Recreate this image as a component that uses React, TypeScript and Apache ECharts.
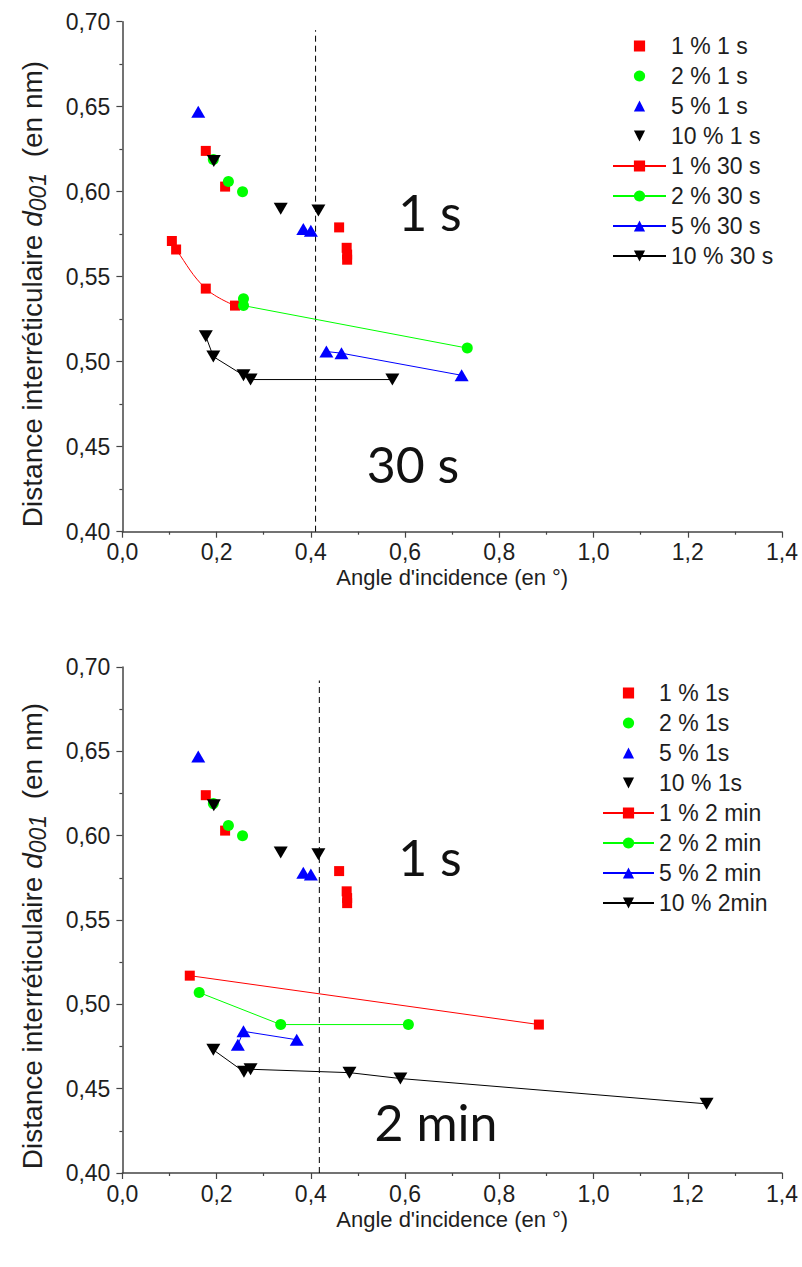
import React, { useEffect, useRef } from "react";
import * as echarts from "echarts";

// ---------- data ----------
// 1 s measurements (same in both panels)
const P1_1S: [number, number][] = [[0.177, 0.624], [0.218, 0.603], [0.460, 0.579], [0.476, 0.567], [0.477, 0.563], [0.477, 0.560]];
const P2_1S: [number, number][] = [[0.193, 0.619], [0.225, 0.606], [0.255, 0.600]];
const P5_1S: [number, number][] = [[0.161, 0.647], [0.384, 0.578], [0.400, 0.577]];
const P10_1S: [number, number][] = [[0.194, 0.618], [0.336, 0.590], [0.416, 0.589]];

// 30 s measurements
const P1_30S: [number, number][] = [[0.105, 0.571], [0.114, 0.566], [0.177, 0.543], [0.239, 0.533]];
const P2_30S: [number, number][] = [[0.257, 0.537], [0.257, 0.533], [0.732, 0.508]];
const P5_30S: [number, number][] = [[0.433, 0.506], [0.465, 0.505], [0.720, 0.492]];
const P10_30S: [number, number][] = [[0.177, 0.515], [0.193, 0.503], [0.257, 0.492], [0.272, 0.4895], [0.573, 0.4895]];

// 2 min measurements
const P1_2M: [number, number][] = [[0.143, 0.517], [0.884, 0.488]];
const P2_2M: [number, number][] = [[0.163, 0.507], [0.336, 0.488], [0.607, 0.488]];
const P5_2M: [number, number][] = [[0.245, 0.476], [0.257, 0.484], [0.370, 0.479]];
const P10_2M: [number, number][] = [[0.193, 0.473], [0.258, 0.460], [0.272, 0.4615], [0.482, 0.4595], [0.590, 0.456], [1.240, 0.441]];

// vertical dashed separators
const DASH_TOP: [number, number][] = [[0.410, 0.40], [0.410, 0.695]];
const DASH_BOTTOM: [number, number][] = [[0.418, 0.40], [0.418, 0.692]];

const TOP_NAMES = ["1 % 1 s", "2 % 1 s", "5 % 1 s", "10 % 1 s", "1 % 30 s", "2 % 30 s", "5 % 30 s", "10 % 30 s"];
const BOTTOM_NAMES = ["1 % 1s", "2 % 1s", "5 % 1s", "10 % 1s", "1 % 2 min", "2 % 2 min", "5 % 2 min", "10 % 2min"];

const X_TITLE = "Angle d'incidence (en °)";
const Y_TITLE_PARTS = ["Distance interréticulaire ", "d", "001", "  (en nm)"];
const PANEL_TEXTS = [["1 s", "30 s"], ["1 s", "2 min"]];

// ---------- styles ----------
const FONT = "'Liberation Sans', Arial, sans-serif";
const TXT = "#1e1e1e";
const RED = "#ff0000";
const GREEN = "#00ff00";
const BLUE = "#0000ff";
const BLACK = "#000000";
const COLORS = [RED, GREEN, BLUE, BLACK];
const SYMBOLS = ["rect", "circle", "triangle", "triangle"];
const ROT = [0, 0, 0, 180];
const SIZES: any[] = [10, 11, [14, 12], [14, 12]];

function series(name: string, data: any, i: number, g: number, withLine: boolean, smooth: number | boolean = false) {
  return {
    type: "line",
    name,
    xAxisIndex: g,
    yAxisIndex: g,
    data,
    smooth,
    symbol: SYMBOLS[i],
    symbolRotate: ROT[i],
    symbolSize: SIZES[i],
    showSymbol: true,
    showAllSymbol: true,
    lineStyle: withLine ? { color: COLORS[i], width: 1 } : { color: "rgba(0,0,0,0)", width: 0 },
    itemStyle: { color: COLORS[i], opacity: 1 },
    z: 3 + i,
  };
}

function dash(data: any, g: number) {
  return {
    type: "line",
    name: "sep" + g,
    xAxisIndex: g,
    yAxisIndex: g,
    data,
    symbol: "none",
    silent: true,
    lineStyle: { color: "#000", width: 1, type: [6, 4] },
    z: 2,
  };
}

const AXIS_LINE = { show: true, onZero: false, lineStyle: { color: "#444", width: 1.5 } };
const AXIS_TICK = { show: true, inside: false, length: 6, lineStyle: { color: "#444", width: 1.2 } };
const MINOR_TICK = { show: true, splitNumber: 2, length: 3, lineStyle: { color: "#444", width: 1.2 } };

function xAxis(g: number) {
  return {
    type: "value",
    gridIndex: g,
    min: 0,
    max: 1.4,
    interval: 0.2,
    name: X_TITLE,
    nameLocation: "middle",
    nameGap: 35,
    nameTextStyle: { fontSize: 22, color: TXT, fontFamily: FONT },
    axisLine: AXIS_LINE,
    axisTick: AXIS_TICK,
    minorTick: MINOR_TICK,
    splitLine: { show: false },
    axisLabel: {
      margin: 9,
      fontSize: 23,
      color: TXT,
      fontFamily: FONT,
      formatter: (v: number) => v.toFixed(1).replace(".", ","),
    },
  };
}

function yAxis(g: number) {
  return {
    type: "value",
    gridIndex: g,
    min: 0.4,
    max: 0.7,
    interval: 0.05,
    axisLine: AXIS_LINE,
    axisTick: AXIS_TICK,
    minorTick: MINOR_TICK,
    splitLine: { show: false },
    axisLabel: {
      margin: 12,
      fontSize: 23,
      color: TXT,
      fontFamily: FONT,
      formatter: (v: number) => v.toFixed(2).replace(".", ","),
    },
  };
}

function legend(names: string[], left: number, top: number, w: number) {
  return {
    orient: "vertical",
    left,
    top,
    padding: 0,
    itemWidth: w,
    itemHeight: 14,
    itemGap: 6,
    data: names,
    selectedMode: false,
    textStyle: { fontSize: 23, color: TXT, fontFamily: FONT, lineHeight: 24 },
  };
}

function bigText(text: string, x: number, y: number) {
  return {
    type: "text",
    x,
    y,
    style: {
      text,
      fill: "#111",
      font: "50px Lato, 'Open Sans', sans-serif",
      textAlign: "center",
      textVerticalAlign: "middle",
    },
    z: 10,
  };
}

function yTitle(x: number, y: number) {
  return {
    type: "text",
    x,
    y,
    rotation: Math.PI / 2,
    style: {
      text: `{n|${Y_TITLE_PARTS[0]}}{d|${Y_TITLE_PARTS[1]}}{s|${Y_TITLE_PARTS[2]}}{n|${Y_TITLE_PARTS[3]}}`,
      textAlign: "center",
      textVerticalAlign: "middle",
      fill: TXT,
      font: `28px ${FONT}`,
      rich: {
        n: { fontSize: 28, fill: TXT, fontFamily: FONT, lineHeight: 34 },
        d: { fontSize: 28, fill: TXT, fontFamily: FONT, fontStyle: "italic", lineHeight: 34 },
        s: { fontSize: 23, fill: TXT, fontFamily: FONT, fontStyle: "italic", lineHeight: 22, verticalAlign: "bottom" },
      },
    },
    z: 10,
  };
}

export default function App() {
  const ref = useRef<HTMLDivElement>(null);
  useEffect(() => {
    if (!ref.current) return;
    const chart = echarts.init(ref.current, null, { renderer: "svg" });
    const list: any[] = [
      dash(DASH_TOP, 0),
      series(TOP_NAMES[0], P1_1S, 0, 0, false),
      series(TOP_NAMES[1], P2_1S, 1, 0, false),
      series(TOP_NAMES[2], P5_1S, 2, 0, false),
      series(TOP_NAMES[3], P10_1S, 3, 0, false),
      series(TOP_NAMES[4], P1_30S, 0, 0, true, 0.4),
      series(TOP_NAMES[5], P2_30S, 1, 0, true),
      series(TOP_NAMES[6], P5_30S, 2, 0, true),
      series(TOP_NAMES[7], P10_30S, 3, 0, true),
      dash(DASH_BOTTOM, 1),
      series(BOTTOM_NAMES[0], P1_1S, 0, 1, false),
      series(BOTTOM_NAMES[1], P2_1S, 1, 1, false),
      series(BOTTOM_NAMES[2], P5_1S, 2, 1, false),
      series(BOTTOM_NAMES[3], P10_1S, 3, 1, false),
      series(BOTTOM_NAMES[4], P1_2M, 0, 1, true),
      series(BOTTOM_NAMES[5], P2_2M, 1, 1, true),
      series(BOTTOM_NAMES[6], P5_2M, 2, 1, true),
      series(BOTTOM_NAMES[7], P10_2M, 3, 1, true),
    ];
    chart.setOption({
      animation: false,
      backgroundColor: "#ffffff",
      grid: [
        { left: 122.4, top: 21.7, width: 659.6, height: 510 },
        { left: 122.4, top: 667, width: 659.6, height: 506 },
      ],
      xAxis: [xAxis(0), xAxis(1)],
      yAxis: [yAxis(0), yAxis(1)],
      legend: [legend(TOP_NAMES, 612, 34, 53), legend(BOTTOM_NAMES, 602, 681, 51)],
      series: list,
      graphic: [
        yTitle(32, 294),
        yTitle(32, 936),
        bigText(PANEL_TEXTS[0][0], 430, 212),
        bigText(PANEL_TEXTS[0][1], 413, 464),
        bigText(PANEL_TEXTS[1][0], 430, 857),
        bigText(PANEL_TEXTS[1][1], 436, 1122),
      ],
    });
    return () => chart.dispose();
  }, []);
  return (
    <div
      ref={ref}
      style={{ position: "absolute", left: 0, top: 0, width: 802, height: 1267, background: "#fff" }}
    />
  );
}
